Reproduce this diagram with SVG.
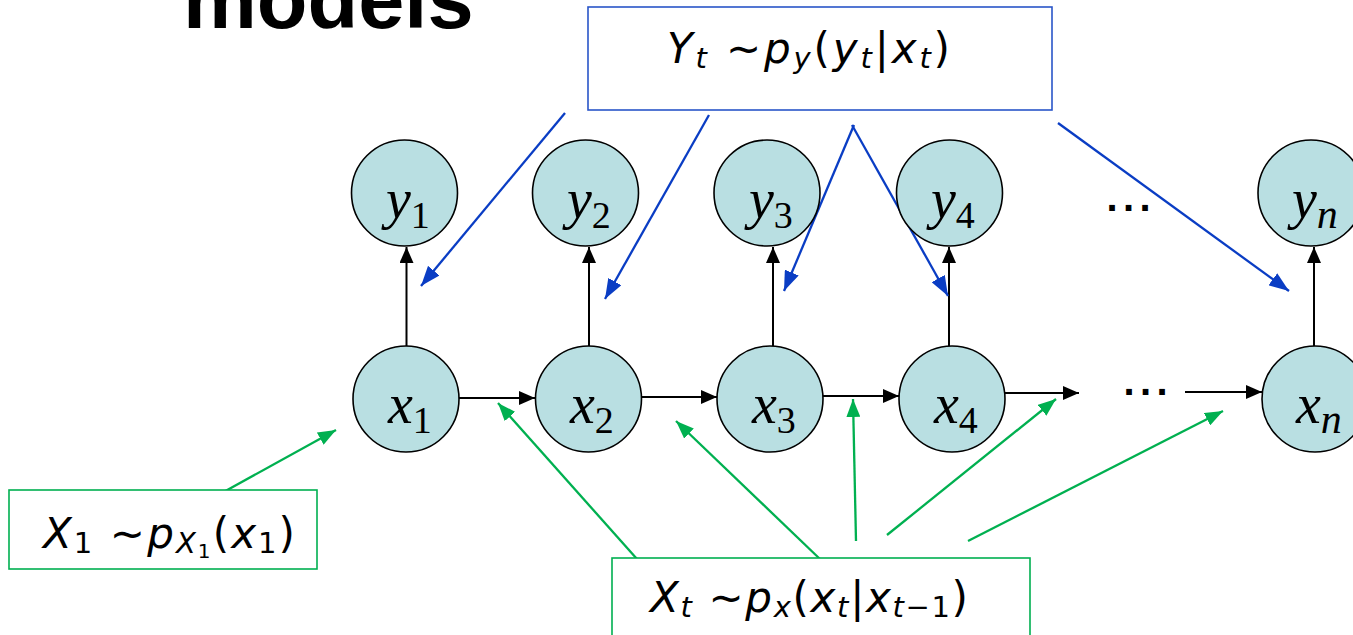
<svg xmlns="http://www.w3.org/2000/svg" width="1353" height="635" viewBox="0 0 1353 635">
<style>
.node{fill:#b9dfe2;stroke:#000;stroke-width:1.6}
.mv{font-family:"Liberation Serif",serif;font-style:italic;font-size:56px;fill:#000}
.sub{font-style:normal;font-size:38px}
.subn{font-style:italic;font-size:42px}
.eq{font-family:"DejaVu Sans",sans-serif;font-style:oblique;font-size:42px;fill:#000}
.es{font-size:29px}
.up{font-style:normal}
.blk{stroke:#000;stroke-width:2;fill:none}
.blu{stroke:#0a3dc4;stroke-width:2.3;fill:none}
.grn{stroke:#00b050;stroke-width:2.3;fill:none}
.dots{font-family:"Liberation Sans",sans-serif;font-weight:bold;font-size:40px;letter-spacing:5.4px;fill:#000}
</style>
<defs>
<marker id="ak" markerUnits="userSpaceOnUse" markerWidth="16" markerHeight="14" refX="16" refY="7" orient="auto"><path d="M0,0 L16,7 L0,14 z" fill="#000"/></marker>
<marker id="ab" markerUnits="userSpaceOnUse" markerWidth="20" markerHeight="15" refX="20" refY="7.5" orient="auto"><path d="M0,0 L20,7.5 L0,15 z" fill="#0a3dc4"/></marker>
<marker id="ag" markerUnits="userSpaceOnUse" markerWidth="18" markerHeight="14" refX="18" refY="7" orient="auto"><path d="M0,0 L18,7 L0,14 z" fill="#00b050"/></marker>
</defs>

<text x="183" y="28" font-family="Liberation Sans,sans-serif" font-weight="bold" font-size="83" fill="#000">models</text>

<g id="connectors">
  <line class="blk" x1="406.5" y1="346" x2="406.5" y2="247" marker-end="url(#ak)"/>
  <line class="blk" x1="589" y1="346" x2="589" y2="247" marker-end="url(#ak)"/>
  <line class="blk" x1="773" y1="346" x2="773" y2="247" marker-end="url(#ak)"/>
  <line class="blk" x1="949" y1="346" x2="949" y2="247" marker-end="url(#ak)"/>
  <line class="blk" x1="1314" y1="346" x2="1314" y2="247" marker-end="url(#ak)"/>
  <line class="blk" x1="459" y1="398" x2="535" y2="398" marker-end="url(#ak)"/>
  <line class="blk" x1="642" y1="397" x2="717" y2="397" marker-end="url(#ak)"/>
  <line class="blk" x1="823" y1="396" x2="899" y2="396" marker-end="url(#ak)"/>
  <line class="blk" x1="1005" y1="393" x2="1079" y2="393" marker-end="url(#ak)"/>
  <line class="blk" x1="1185" y1="392" x2="1262" y2="392" marker-end="url(#ak)"/>

  <line class="blu" x1="565" y1="113" x2="421" y2="286" marker-end="url(#ab)"/>
  <line class="blu" x1="709" y1="115" x2="605" y2="299" marker-end="url(#ab)"/>
  <line class="blu" x1="854" y1="125" x2="784" y2="291" marker-end="url(#ab)"/>
  <line class="blu" x1="852" y1="125" x2="948" y2="296" marker-end="url(#ab)"/>
  <line class="blu" x1="1058" y1="123" x2="1289" y2="291" marker-end="url(#ab)"/>

  <line class="grn" x1="211" y1="499" x2="336" y2="430" marker-end="url(#ag)"/>
  <line class="grn" x1="645" y1="568" x2="498" y2="403" marker-end="url(#ag)"/>
  <line class="grn" x1="821" y1="560" x2="676" y2="421" marker-end="url(#ag)"/>
  <line class="grn" x1="856" y1="541" x2="853" y2="399" marker-end="url(#ag)"/>
  <line class="grn" x1="887" y1="535" x2="1056" y2="399" marker-end="url(#ag)"/>
  <line class="grn" x1="968" y1="541" x2="1223" y2="411" marker-end="url(#ag)"/>
</g>

<text class="dots" x="1106.5" y="211">...</text>
<text class="dots" x="1123.5" y="395">...</text>

<g id="y1"><circle class="node" cx="404.5" cy="193" r="53"/><text class="mv" x="386" y="218">y<tspan class="sub" dy="10">1</tspan></text></g>
<g id="y2"><circle class="node" cx="585.5" cy="193" r="53"/><text class="mv" x="567" y="218">y<tspan class="sub" dy="10">2</tspan></text></g>
<g id="y3"><circle class="node" cx="767" cy="193" r="53"/><text class="mv" x="749" y="218">y<tspan class="sub" dy="10">3</tspan></text></g>
<g id="y4"><circle class="node" cx="949.5" cy="193" r="53"/><text class="mv" x="931" y="218">y<tspan class="sub" dy="10">4</tspan></text></g>
<g id="yn"><circle class="node" cx="1311" cy="193" r="53"/><text class="mv" x="1292" y="218">y<tspan class="subn" dy="10">n</tspan></text></g>

<g id="x1"><circle class="node" cx="406" cy="399" r="53"/><text class="mv" x="388" y="423">x<tspan class="sub" dy="10">1</tspan></text></g>
<g id="x2"><circle class="node" cx="588.5" cy="399" r="53"/><text class="mv" x="570" y="423">x<tspan class="sub" dy="10">2</tspan></text></g>
<g id="x3"><circle class="node" cx="770" cy="399" r="53"/><text class="mv" x="752" y="423">x<tspan class="sub" dy="10">3</tspan></text></g>
<g id="x4"><circle class="node" cx="952" cy="399" r="53"/><text class="mv" x="934" y="423">x<tspan class="sub" dy="10">4</tspan></text></g>
<g id="xn"><circle class="node" cx="1315" cy="399" r="53"/><text class="mv" x="1296" y="423">x<tspan class="subn" dy="10">n</tspan></text></g>

<g id="ybox">
  <rect x="588" y="7" width="464" height="103" fill="#fff" stroke="#2a55c8" stroke-width="1.6"/>
  <text class="eq" x="667" y="63" textLength="283" lengthAdjust="spacing">Y<tspan class="es" dy="5">t</tspan><tspan dy="-5"> ∼p</tspan><tspan class="es" dy="5">y</tspan><tspan class="up" dy="-5">(</tspan>y<tspan class="es" dy="5">t</tspan><tspan class="up" dy="-5">|</tspan>x<tspan class="es" dy="5">t</tspan><tspan class="up" dy="-5">)</tspan></text>
</g>

<g id="x1box">
  <rect x="9" y="490" width="308" height="79" fill="#fff" stroke="#00b050" stroke-width="1.6"/>
  <text class="eq" x="43" y="548" textLength="252" lengthAdjust="spacing">X<tspan class="es up" dy="5">1</tspan><tspan dy="-5"> ∼p</tspan><tspan class="es" dy="5">X</tspan><tspan class="up" style="font-size:20px" dy="5">1</tspan><tspan class="up" dy="-10">(</tspan>x<tspan class="es up" dy="5">1</tspan><tspan class="up" dy="-5">)</tspan></text>
</g>

<g id="xtbox">
  <rect x="612" y="558" width="418" height="90" fill="#fff" stroke="#00b050" stroke-width="1.6"/>
  <text class="eq" x="650" y="612" textLength="318" lengthAdjust="spacing">X<tspan class="es" dy="5">t</tspan><tspan dy="-5"> ∼p</tspan><tspan class="es" dy="5">x</tspan><tspan class="up" dy="-5">(</tspan>x<tspan class="es" dy="5">t</tspan><tspan class="up" dy="-5">|</tspan>x<tspan class="es" dy="5">t<tspan class="up">−1</tspan></tspan><tspan class="up" dy="-5">)</tspan></text>
</g>
</svg>
